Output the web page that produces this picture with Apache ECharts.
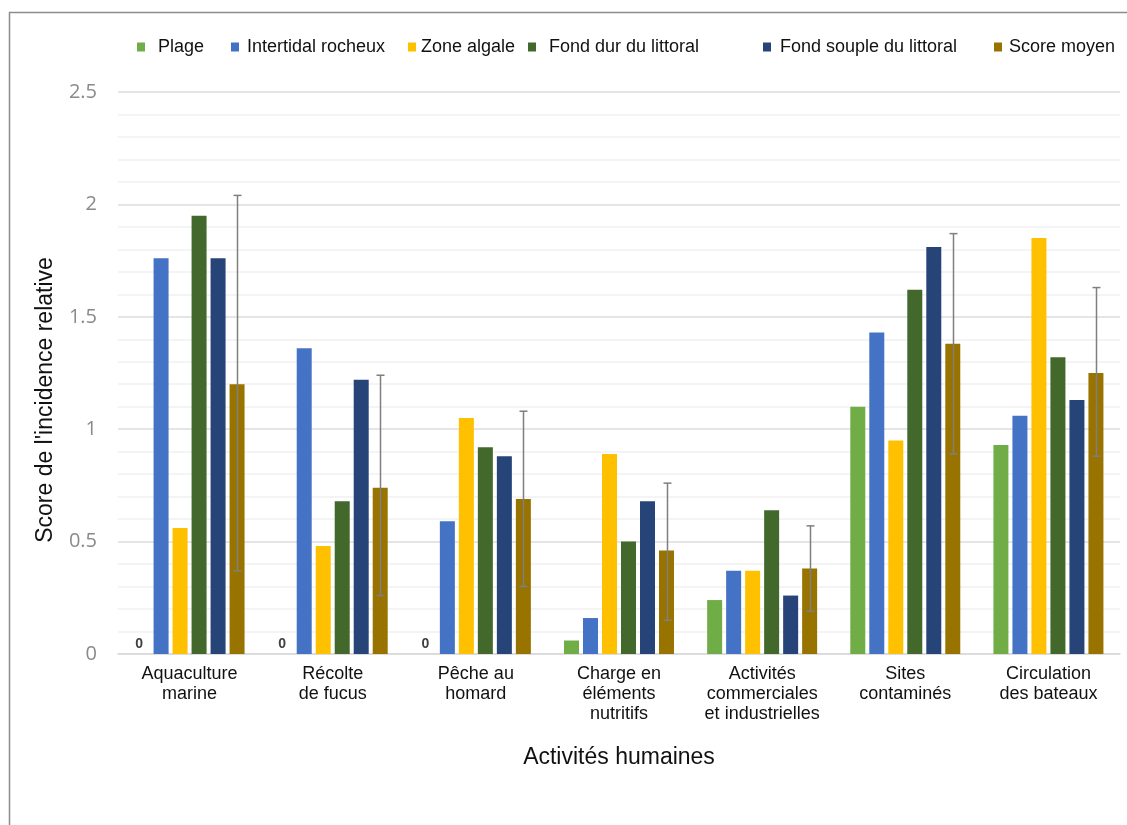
<!DOCTYPE html>
<html>
<head>
<meta charset="utf-8">
<script src="https://cdn.jsdelivr.net/npm/echarts@6/dist/echarts.min.js"></script>
<style>
html,body{margin:0;padding:0;background:#fff;}
#chart{width:1127px;height:825px;}
</style>
</head>
<body>
<div id="chart"></div>
<script>
const categories = ["Aquaculture\nmarine", "Récolte\nde fucus", "Pêche au\nhomard", "Charge en\néléments\nnutritifs", "Activités\ncommerciales\net industrielles", "Sites\ncontaminés", "Circulation\ndes bateaux"];
const seriesNames = ["Plage", "Intertidal rocheux", "Zone algale", "Fond dur du littoral", "Fond souple du littoral", "Score moyen"];
const plage = [0, 0, 0, 0.06, 0.24, 1.10, 0.93];
const intertidal = [1.76, 1.36, 0.59, 0.16, 0.37, 1.43, 1.06];
const zoneAlgale = [0.56, 0.48, 1.05, 0.89, 0.37, 0.95, 1.85];
const fondDur = [1.95, 0.68, 0.92, 0.50, 0.64, 1.62, 1.32];
const fondSouple = [1.76, 1.22, 0.88, 0.68, 0.26, 1.81, 1.13];
const scoreMoyen = [1.20, 0.74, 0.69, 0.46, 0.38, 1.38, 1.25];
const errLow = [0.37, 0.26, 0.30, 0.15, 0.19, 0.89, 0.88];
const errHigh = [2.04, 1.24, 1.08, 0.76, 0.57, 1.87, 1.63];
const yTicks = [0, 0.5, 1, 1.5, 2, 2.5];

const colors = ["#70AD47", "#4472C4", "#FFC000", "#43682B", "#264478", "#997300"];
const values = [plage, intertidal, zoneAlgale, fondDur, fondSouple, scoreMoyen];
const BAR_W = 15, BAR_GAP = 4;
const FONT = "'Liberation Sans', Arial, sans-serif";

const chart = echarts.init(document.getElementById('chart'), null, {renderer: 'canvas'});

const barSeries = seriesNames.map((name, i) => ({
  name: name,
  type: 'bar',
  data: values[i],
  barWidth: BAR_W,
  barGap: (BAR_GAP / BAR_W * 100) + '%',
  itemStyle: {color: colors[i]},
  label: i === 0 ? {
    show: true,
    position: 'top',
    distance: 3,
    offset: [-3, 0],
    formatter: p => (p.value === 0 ? '0' : ''),
    fontFamily: FONT,
    fontSize: 14,
    fontWeight: 'bold',
    color: '#404040'
  } : {show: false},
  emphasis: {disabled: true},
  z: 2
}));

const errData = categories.map((c, i) => [i, errLow[i], errHigh[i]]);

const errSeries = {
  type: 'custom',
  name: 'err',
  data: errData,
  encode: {x: 0, y: [1, 2]},
  z: 5,
  silent: true,
  renderItem: function (params, api) {
    const n = seriesNames.length;
    const idx = n - 1;
    const off = (idx - (n - 1) / 2) * (BAR_W + BAR_GAP);
    const lo = api.coord([api.value(0), api.value(1)]);
    const hi = api.coord([api.value(0), api.value(2)]);
    const x = Math.round(lo[0] + off) + 0.5;
    const cap = 4;
    const st = {stroke: '#7f7f7f', lineWidth: 1.5};
    return {
      type: 'group',
      children: [
        {type: 'line', shape: {x1: x, y1: lo[1], x2: x, y2: hi[1]}, style: st},
        {type: 'line', shape: {x1: x - cap, y1: lo[1], x2: x + cap, y2: lo[1]}, style: st},
        {type: 'line', shape: {x1: x - cap, y1: hi[1], x2: x + cap, y2: hi[1]}, style: st}
      ]
    };
  }
};

const legendPos = [
  {left: 137, pad: 8},
  {left: 231, pad: 3},
  {left: 408, pad: 0},
  {left: 528, pad: 8},
  {left: 763, pad: 4},
  {left: 994, pad: 2}
];

const legends = seriesNames.map((name, i) => ({
  data: [name],
  left: legendPos[i].left,
  top: 38,
  orient: 'horizontal',
  itemWidth: 8,
  itemHeight: 9,
  icon: 'rect',
  selectedMode: false,
  padding: 0,
  textStyle: {
    fontFamily: FONT,
    fontSize: 18,
    color: '#111',
    padding: [0, 0, 0, legendPos[i].pad]
  }
}));

const option = {
  animation: false,
  backgroundColor: '#fff',
  legend: legends,
  grid: {left: 118, right: 7, top: 92, bottom: 171, containLabel: false},
  xAxis: {
    type: 'category',
    data: categories,
    name: 'Activités humaines',
    nameLocation: 'middle',
    nameGap: 92,
    nameTextStyle: {fontFamily: FONT, fontSize: 23, color: '#111'},
    axisLine: {show: true, lineStyle: {color: '#d9d9d9', width: 1.5}},
    axisTick: {show: false},
    axisLabel: {
      interval: 0,
      margin: 10,
      fontFamily: FONT,
      fontSize: 18,
      lineHeight: 20,
      color: '#111'
    },
    splitLine: {show: false}
  },
  yAxis: {
    type: 'value',
    min: yTicks[0],
    max: yTicks[yTicks.length - 1],
    interval: 0.5,
    name: "Score de l'incidence relative",
    nameLocation: 'middle',
    nameRotate: 90,
    nameGap: 61,
    nameTextStyle: {fontFamily: FONT, fontSize: 23, color: '#111', padding: [0, 54, 0, 0]},
    axisLine: {show: false},
    axisTick: {show: false},
    axisLabel: {
      margin: 21,
      fontFamily: "'Open Sans', sans-serif",
      fontSize: 20,
      color: '#8a8a8a',
      formatter: v => String(v)
    },
    splitLine: {show: true, lineStyle: {color: '#dcdcdc', width: 1.5}},
    minorTick: {show: false, splitNumber: 5},
    minorSplitLine: {show: true, lineStyle: {color: '#f1f1f1', width: 1.5}}
  },
  graphic: [
    {type: 'line', shape: {x1: 9, y1: 12.5, x2: 1127, y2: 12.5}, style: {stroke: '#8c8c8c', lineWidth: 1.5}, z: 10},
    {type: 'line', shape: {x1: 9.5, y1: 12, x2: 9.5, y2: 825}, style: {stroke: '#8c8c8c', lineWidth: 1.5}, z: 10}
  ],
  series: barSeries.concat([errSeries])
};

chart.setOption(option);
</script>
</body>
</html>
